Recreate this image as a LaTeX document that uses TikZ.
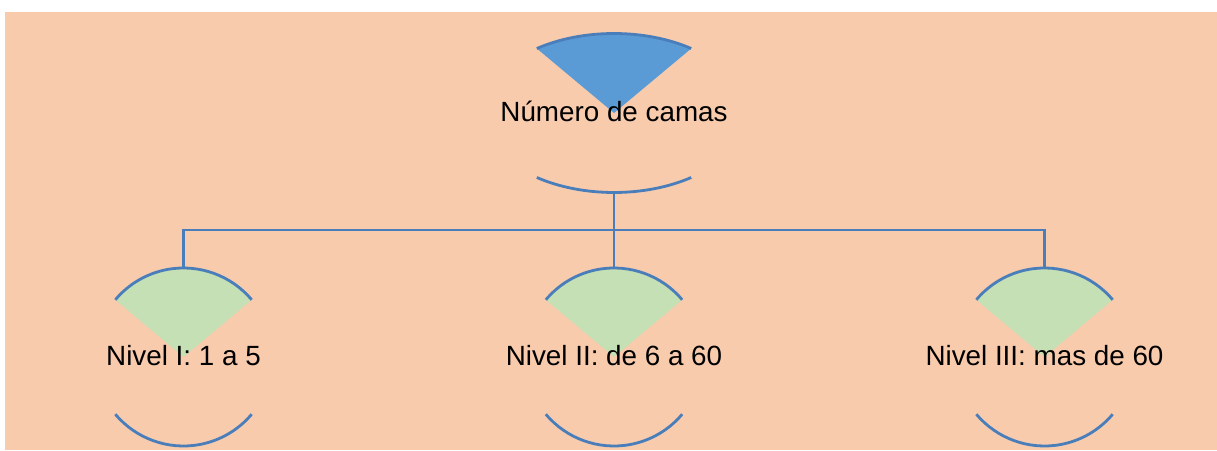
\documentclass[tikz,border=0pt]{standalone}
\usepackage{fontspec}
\setmainfont{Liberation Sans}
\definecolor{bgpeach}{RGB}{248,203,173}
\definecolor{linebl}{RGB}{74,126,187}
\definecolor{topfill}{RGB}{91,155,213}
\definecolor{grfill}{RGB}{197,224,180}
\begin{document}
\begin{tikzpicture}[x=1pt,y=1pt,
  arcline/.style={draw=linebl,line width=2.8pt},
  conn/.style={draw=linebl,line width=2.8pt},
  lbl/.style={anchor=base,inner sep=0pt,font=\fontsize{27.8}{33}\selectfont}]
\useasboundingbox (0,0) rectangle (1217,450);
\fill[bgpeach] (5,0) rectangle (1217,438);
% top node
\coordinate (rootc) at (614,337);
\fill[topfill] (rootc) ++(54.2:132pt and 79.5pt) arc[start angle=54.2,end angle=125.8,x radius=132pt,y radius=79.5pt] -- (rootc) -- cycle;
\draw[arcline] (rootc) ++(54.2:132pt and 79.5pt) arc[start angle=54.2,end angle=125.8,x radius=132pt,y radius=79.5pt];
\draw[arcline] (rootc) ++(234.2:132pt and 79.5pt) arc[start angle=234.2,end angle=305.8,x radius=132pt,y radius=79.5pt];
\coordinate (rootbot) at (614,257.5);
\node[lbl] (root) at (614,328) {Número de camas};
% level 2 nodes
\foreach \n/\cx/\t in {a/183.5/{Nivel I: 1 a 5},b/614/{Nivel II: de 6 a 60},c/1044.5/{Nivel III: mas de 60}}{
  \coordinate (kc\n) at (\cx,93);
  \fill[grfill] (kc\n) ++(40:89pt) arc[start angle=40,end angle=140,radius=89pt] -- (kc\n) -- cycle;
  \draw[arcline] (kc\n) ++(40:89pt) arc[start angle=40,end angle=140,radius=89pt];
  \draw[arcline] (kc\n) ++(220:89pt) arc[start angle=220,end angle=320,radius=89pt];
  \coordinate (ktop\n) at (\cx,182);
  \node[lbl] (kl\n) at (\cx,85) {\t};
}
% connectors
\coordinate (bus) at (614,220);
\draw[conn] (rootbot) -- (bus);
\draw[conn] (bus) -| (ktopa);
\draw[conn] (bus) -- (ktopb);
\draw[conn] (bus) -| (ktopc);
\end{tikzpicture}
\end{document}
